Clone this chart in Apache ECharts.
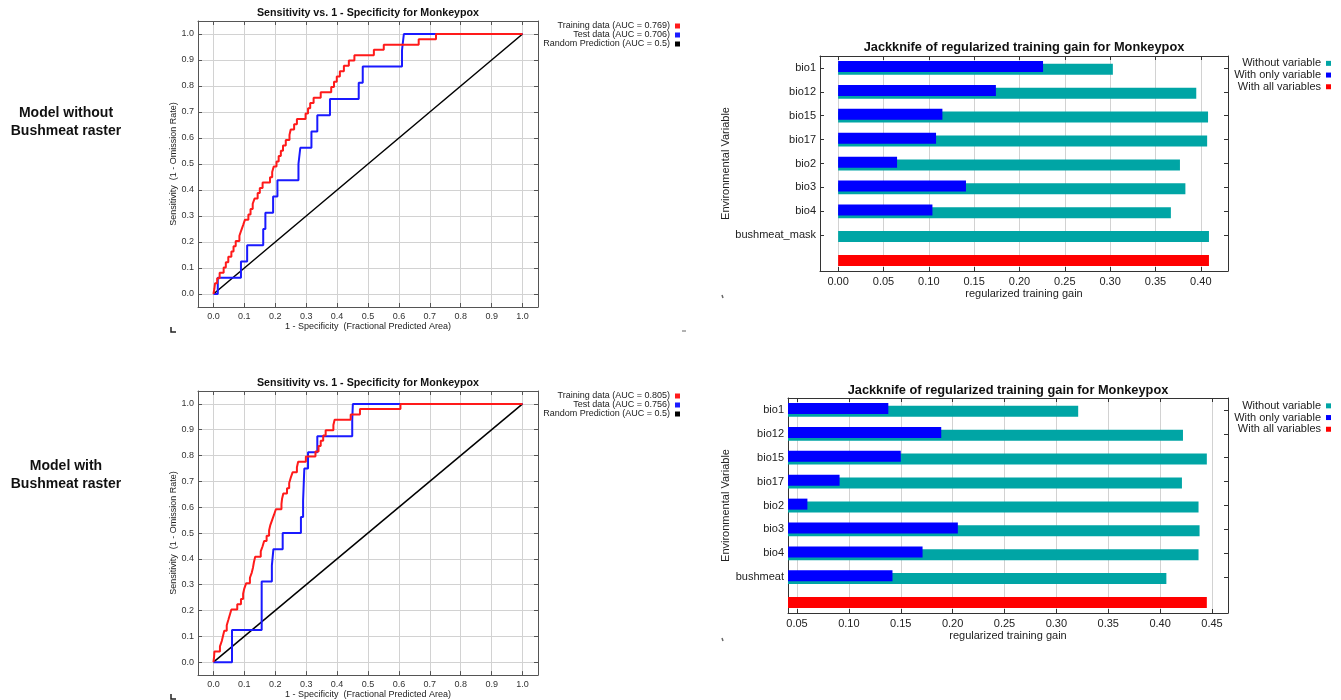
<!DOCTYPE html>
<html><head><meta charset="utf-8">
<script src="https://cdn.jsdelivr.net/npm/echarts@6/dist/echarts.min.js"></script>
<style>html,body{margin:0;padding:0;background:#fff}#c{width:1341px;height:700px}</style>
</head><body><div id="c"></div>
<script>
// ---------- DATA ----------
const rocTicks = [0, 0.1, 0.2, 0.3, 0.4, 0.5, 0.6, 0.7, 0.8, 0.9, 1.0];
const randomFPR = [0, 1];
const randomTPR = [0, 1];

// Model without bushmeat raster (top ROC)
const topTrainFPR = [0, 0.003, 0.005, 0.012, 0.020, 0.033, 0.040, 0.048, 0.058, 0.065, 0.072, 0.084, 0.090, 0.096, 0.102, 0.113, 0.120, 0.127, 0.133, 0.143, 0.150, 0.159, 0.183, 0.190, 0.195, 0.204, 0.211, 0.218, 0.225, 0.234, 0.246, 0.250, 0.261, 0.270, 0.298, 0.306, 0.313, 0.324, 0.347, 0.381, 0.390, 0.399, 0.409, 0.422, 0.438, 0.456, 0.519, 0.551, 0.664, 0.720, 1.0];
const topTrainTPR = [0, 0.020, 0.041, 0.061, 0.082, 0.102, 0.122, 0.143, 0.163, 0.184, 0.204, 0.224, 0.245, 0.265, 0.286, 0.306, 0.327, 0.347, 0.367, 0.388, 0.408, 0.429, 0.449, 0.469, 0.490, 0.510, 0.531, 0.551, 0.571, 0.592, 0.612, 0.633, 0.653, 0.673, 0.694, 0.714, 0.735, 0.755, 0.776, 0.796, 0.816, 0.837, 0.857, 0.878, 0.898, 0.918, 0.939, 0.959, 0.980, 1.0, 1.0];
const topTestFPR = [0, 0.014, 0.089, 0.109, 0.161, 0.168, 0.193, 0.207, 0.275, 0.281, 0.317, 0.336, 0.377, 0.470, 0.483, 0.610, 0.616, 1.0];
const topTestTPR = [0, 0.0625, 0.125, 0.1875, 0.25, 0.3125, 0.375, 0.4375, 0.5, 0.5625, 0.625, 0.6875, 0.75, 0.8125, 0.875, 0.9375, 1.0, 1.0];
const topNames = ['Training data (AUC = 0.769)', 'Test data (AUC = 0.706)', 'Random Prediction (AUC = 0.5)'];

// Model with bushmeat raster (bottom ROC)
const botTrainFPR = [0, 0.002, 0.003, 0.021, 0.027, 0.031, 0.035, 0.043, 0.048, 0.053, 0.058, 0.077, 0.089, 0.096, 0.100, 0.106, 0.118, 0.124, 0.128, 0.131, 0.135, 0.153, 0.159, 0.164, 0.172, 0.180, 0.184, 0.190, 0.196, 0.202, 0.220, 0.222, 0.226, 0.238, 0.245, 0.250, 0.256, 0.270, 0.274, 0.299, 0.330, 0.340, 0.347, 0.355, 0.363, 0.388, 0.392, 0.444, 0.474, 0.605, 1.0];
const botTrainTPR = [0, 0.020, 0.041, 0.061, 0.082, 0.102, 0.122, 0.143, 0.163, 0.184, 0.204, 0.224, 0.245, 0.265, 0.286, 0.306, 0.327, 0.347, 0.367, 0.388, 0.408, 0.429, 0.449, 0.469, 0.490, 0.510, 0.531, 0.551, 0.571, 0.592, 0.612, 0.633, 0.653, 0.673, 0.694, 0.714, 0.735, 0.755, 0.776, 0.796, 0.816, 0.837, 0.857, 0.878, 0.898, 0.918, 0.939, 0.959, 0.980, 1.0, 1.0];
const botTestFPR = [0, 0.060, 0.156, 0.189, 0.194, 0.224, 0.283, 0.290, 0.292, 0.294, 0.306, 0.336, 0.449, 0.451, 1.0];
const botTestTPR = [0, 0.125, 0.3125, 0.375, 0.4375, 0.5, 0.5625, 0.625, 0.6875, 0.75, 0.8125, 0.875, 0.9375, 1.0, 1.0];
const botNames = ['Training data (AUC = 0.805)', 'Test data (AUC = 0.756)', 'Random Prediction (AUC = 0.5)'];

// Jackknife
const jkLegend = ['Without variable', 'With only variable', 'With all variables'];
const jkTopCats = ['bio1', 'bio12', 'bio15', 'bio17', 'bio2', 'bio3', 'bio4', 'bushmeat_mask', ''];
const jkTopWithout = [0.303, 0.395, 0.408, 0.407, 0.377, 0.383, 0.367, 0.409];
const jkTopOnly = [0.226, 0.174, 0.115, 0.108, 0.065, 0.141, 0.104, null];
const jkTopAll = 0.409;
const jkTopTicks = [0, 0.05, 0.10, 0.15, 0.20, 0.25, 0.30, 0.35, 0.40];

const jkBotCats = ['bio1', 'bio12', 'bio15', 'bio17', 'bio2', 'bio3', 'bio4', 'bushmeat', ''];
const jkBotWithout = [0.321, 0.422, 0.445, 0.421, 0.437, 0.438, 0.437, 0.406];
const jkBotOnly = [0.138, 0.189, 0.150, 0.091, 0.060, 0.205, 0.171, 0.142];
const jkBotAll = 0.445;
const jkBotTicks = [0.05, 0.10, 0.15, 0.20, 0.25, 0.30, 0.35, 0.40, 0.45];

// ---------- STYLE ----------
const FONT = '"Liberation Sans", Arial, Helvetica, sans-serif';
const FRAME = '#555';
const GRIDC = '#d2d2d2';
const RED = '#ff1a1a', BLUE = '#1a1aff', TEAL = '#00a5a5', JKBLUE = '#0000ff', JKRED = '#ff0000';

const grids = [
  {left: 198, top: 21, width: 340, height: 286},
  {left: 198, top: 391, width: 340, height: 285},
  {left: 820, top: 56, width: 408, height: 215},
  {left: 788, top: 398, width: 440, height: 215}
];

const xAxes = [], yAxes = [], series = [];

function addROC(g, trainF, trainT, testF, testT, names) {
  const xi = xAxes.length, yi = yAxes.length;
  xAxes.push({
    type: 'value', gridIndex: g, position: 'bottom', min: -0.05, max: 1.05,
    axisLine: {show: true, onZero: false, lineStyle: {color: FRAME}},
    axisTick: {show: true, inside: true, length: 4, customValues: rocTicks, lineStyle: {color: FRAME}},
    axisLabel: {customValues: rocTicks, formatter: v => v.toFixed(1), fontSize: 9, color: '#333', margin: 5, fontFamily: FONT},
    splitLine: {show: true, lineStyle: {color: GRIDC}},
    name: '1 - Specificity  (Fractional Predicted Area)', nameLocation: 'middle', nameGap: 14,
    nameTextStyle: {fontSize: 9, color: '#222', fontFamily: FONT}
  });
  xAxes.push({
    type: 'value', gridIndex: g, position: 'top', min: -0.05, max: 1.05,
    axisLine: {show: true, onZero: false, lineStyle: {color: FRAME}},
    axisTick: {show: true, inside: true, length: 4, customValues: rocTicks, lineStyle: {color: FRAME}},
    axisLabel: {show: false}, splitLine: {show: false}
  });
  yAxes.push({
    type: 'value', gridIndex: g, position: 'left', min: -0.05, max: 1.05,
    axisLine: {show: true, onZero: false, lineStyle: {color: FRAME}},
    axisTick: {show: true, inside: true, length: 4, customValues: rocTicks, lineStyle: {color: FRAME}},
    axisLabel: {customValues: rocTicks, formatter: v => v.toFixed(1), fontSize: 9, color: '#333', margin: 4, fontFamily: FONT},
    splitLine: {show: true, lineStyle: {color: GRIDC}},
    name: 'Sensitivity  (1 - Omission Rate)', nameLocation: 'middle', nameGap: 18,
    nameTextStyle: {fontSize: 9, color: '#222', fontFamily: FONT}
  });
  yAxes.push({
    type: 'value', gridIndex: g, position: 'right', min: -0.05, max: 1.05,
    axisLine: {show: true, onZero: false, lineStyle: {color: FRAME}},
    axisTick: {show: true, inside: true, length: 4, customValues: rocTicks, lineStyle: {color: FRAME}},
    axisLabel: {show: false}, splitLine: {show: false}
  });
  const base = {type: 'line', xAxisIndex: xi, yAxisIndex: yi, symbol: 'none', showSymbol: false, animation: false, silent: true};
  series.push(Object.assign({}, base, {
    name: names[2], data: randomFPR.map((x, i) => [x, randomTPR[i]]),
    itemStyle: {color: '#000'}, lineStyle: {color: '#000', width: 1.5}
  }));
  series.push(Object.assign({}, base, {
    name: names[1], step: 'end', data: testF.map((x, i) => [x, testT[i]]),
    itemStyle: {color: BLUE}, lineStyle: {color: BLUE, width: 2}
  }));
  series.push(Object.assign({}, base, {
    name: names[0], step: 'end', data: trainF.map((x, i) => [x, trainT[i]]),
    itemStyle: {color: RED}, lineStyle: {color: RED, width: 2}
  }));
}

function addJK(g, cats, without, only, all, min, max, ticks, nameGap) {
  const xi = xAxes.length, yi = yAxes.length;
  xAxes.push({
    type: 'value', gridIndex: g, position: 'bottom', min: min, max: max,
    axisLine: {show: true, onZero: false, lineStyle: {color: '#333'}},
    axisTick: {show: true, inside: true, length: 4, customValues: ticks, lineStyle: {color: '#333'}},
    axisLabel: {customValues: ticks, formatter: v => v.toFixed(2), fontSize: 11, color: '#222', margin: 5, fontFamily: FONT},
    splitLine: {show: true, lineStyle: {color: GRIDC}},
    name: 'regularized training gain', nameLocation: 'middle', nameGap: 17,
    nameTextStyle: {fontSize: 11, color: '#222', fontFamily: FONT}
  });
  xAxes.push({
    type: 'value', gridIndex: g, position: 'top', min: min, max: max,
    axisLine: {show: true, onZero: false, lineStyle: {color: '#333'}},
    axisTick: {show: true, inside: true, length: 4, customValues: ticks, lineStyle: {color: '#333'}},
    axisLabel: {show: false}, splitLine: {show: false}
  });
  yAxes.push({
    type: 'category', gridIndex: g, position: 'left', data: cats, inverse: true,
    axisLine: {show: true, onZero: false, lineStyle: {color: '#333'}},
    axisTick: {show: true, inside: true, length: 4, alignWithLabel: true, interval: (i) => i < cats.length - 1, lineStyle: {color: '#333'}},
    axisLabel: {fontSize: 11, color: '#222', margin: 4, fontFamily: FONT, interval: 0},
    splitLine: {show: false},
    name: 'Environmental Variable', nameLocation: 'middle', nameGap: nameGap,
    nameTextStyle: {fontSize: 11, color: '#222', fontFamily: FONT}
  });
  yAxes.push({
    type: 'category', gridIndex: g, position: 'right', data: cats, inverse: true,
    axisLine: {show: true, onZero: false, lineStyle: {color: '#333'}},
    axisTick: {show: true, inside: true, length: 4, alignWithLabel: true, interval: (i) => i < cats.length - 1, lineStyle: {color: '#333'}},
    axisLabel: {show: false}, splitLine: {show: false}
  });
  const base = {type: 'bar', xAxisIndex: xi, yAxisIndex: yi, barWidth: 11, barGap: '-75%', animation: false, silent: true};
  // blue first -> upper slot, drawn above teal via z
  series.push(Object.assign({}, base, {
    name: jkLegend[1], data: only.map(v => v == null ? '-' : v).concat(['-']),
    itemStyle: {color: JKBLUE}, z: 3
  }));
  series.push(Object.assign({}, base, {
    name: jkLegend[0], stack: 'jk' + g, data: without.concat(['-']),
    itemStyle: {color: TEAL}
  }));
  series.push(Object.assign({}, base, {
    name: jkLegend[2], stack: 'jk' + g, data: without.map(() => '-').concat([all]),
    itemStyle: {color: JKRED}
  }));
}

addROC(0, topTrainFPR, topTrainTPR, topTestFPR, topTestTPR, topNames);
addROC(1, botTrainFPR, botTrainTPR, botTestFPR, botTestTPR, botNames);
addJK(2, jkTopCats, jkTopWithout, jkTopOnly, jkTopAll, -0.02, 0.43, jkTopTicks, 86);
addJK(3, jkBotCats, jkBotWithout, jkBotOnly, jkBotAll, 0.0413, 0.4654, jkBotTicks, 54);

function rocLegend(names, top) {
  return {
    data: names, orient: 'vertical', align: 'right', right: 661, top: top, padding: 0,
    itemWidth: 5, itemHeight: 5, itemGap: 0, icon: 'rect', selectedMode: false,
    textStyle: {fontSize: 9, lineHeight: 8.4, color: '#222', fontFamily: FONT}
  };
}
function jkLegendCfg(top) {
  return {
    data: jkLegend, orient: 'vertical', align: 'right', right: 10, top: top, padding: 0,
    itemWidth: 5, itemHeight: 5, itemGap: 0, icon: 'rect', selectedMode: false,
    textStyle: {fontSize: 11, lineHeight: 11.7, color: '#222', fontFamily: FONT}
  };
}

function txt(x, y, text, font, lh) {
  return {type: 'text', x: x, y: y, silent: true,
    style: {text: text, font: font, fill: '#111', textAlign: 'center', textVerticalAlign: 'middle', lineHeight: lh || 0}};
}
function mark(points, color) {
  return {type: 'polyline', silent: true, shape: {points: points}, style: {stroke: color, lineWidth: 1.5, fill: null}};
}

const option = {
  animation: false,
  backgroundColor: '#fff',
  grid: grids,
  xAxis: xAxes,
  yAxis: yAxes,
  legend: [rocLegend(topNames, 21.5), rocLegend(botNames, 391.5), jkLegendCfg(57.5), jkLegendCfg(400)],
  series: series,
  graphic: [
    txt(66, 122, 'Model without\nBushmeat raster', 'bold 14px ' + FONT, 18),
    txt(66, 475, 'Model with\nBushmeat raster', 'bold 14px ' + FONT, 18),
    txt(368, 13.5, 'Sensitivity vs. 1 - Specificity for Monkeypox', 'bold 10.7px ' + FONT),
    txt(368, 383.5, 'Sensitivity vs. 1 - Specificity for Monkeypox', 'bold 10.7px ' + FONT),
    txt(1024, 47, 'Jackknife of regularized training gain for Monkeypox', 'bold 12.8px ' + FONT),
    txt(1008, 390, 'Jackknife of regularized training gain for Monkeypox', 'bold 12.8px ' + FONT),
    mark([[171, 327], [171, 332], [176, 332]], '#222'),
    mark([[682, 331], [686, 331]], '#999'),
    mark([[722, 295], [723, 298]], '#666'),
    mark([[722, 638], [723, 641]], '#666'),
    mark([[171, 694], [171, 699], [176, 699]], '#222')
  ]
};

const chart = echarts.init(document.getElementById('c'), null, {renderer: 'canvas'});
chart.setOption(option);
</script></body></html>
